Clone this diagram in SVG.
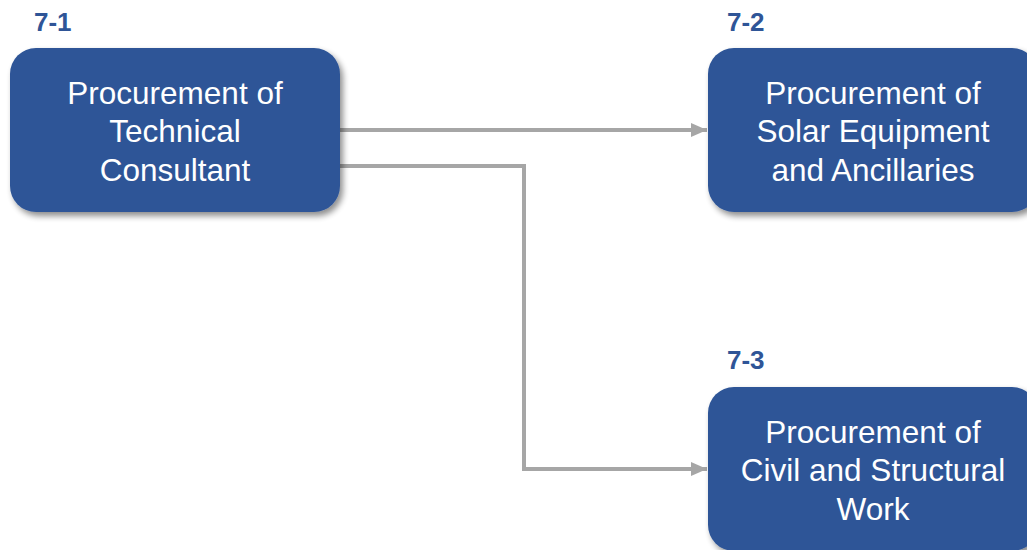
<svg xmlns="http://www.w3.org/2000/svg" width="1027" height="550" viewBox="0 0 1027 550">
<defs>
<filter id="sh" x="-10%" y="-10%" width="130%" height="140%">
<feGaussianBlur in="SourceAlpha" stdDeviation="3"/>
<feOffset dx="3" dy="4" result="b"/>
<feComponentTransfer><feFuncA type="linear" slope="0.45"/></feComponentTransfer>
<feMerge><feMergeNode/><feMergeNode in="SourceGraphic"/></feMerge>
</filter>
<marker id="arr" markerWidth="16" markerHeight="14" refX="16" refY="7" orient="auto" markerUnits="userSpaceOnUse">
<path d="M0,0 L16,7 L0,14 Z" fill="#A6A6A6"/>
</marker>
</defs>
<style>
.box{fill:#2F5597;filter:url(#sh)}
.t{font-family:"Liberation Sans",Arial,sans-serif;font-size:31.5px;fill:#fff;text-anchor:middle}
.lbl{font-family:"Liberation Sans",Arial,sans-serif;font-size:26px;font-weight:bold;fill:#2F5597}
.c{fill:none;stroke:#A6A6A6;stroke-width:4}
</style>
<rect width="1027" height="550" fill="#fff"/>
<g id="connectors">
<path class="c" d="M340,130 H707" marker-end="url(#arr)"/>
<path class="c" d="M340,166 H524 V469 H707" marker-end="url(#arr)"/>
</g>
<g id="node1">
<text class="lbl" x="34" y="31">7-1</text>
<rect class="box" x="10" y="48" width="330" height="164" rx="26"/>
<text class="t" x="175" y="104">Procurement of</text>
<text class="t" x="175" y="142">Technical</text>
<text class="t" x="175" y="181">Consultant</text>
</g>
<g id="node2">
<text class="lbl" x="727" y="31">7-2</text>
<rect class="box" x="708" y="48" width="330" height="164" rx="26"/>
<text class="t" x="873" y="104">Procurement of</text>
<text class="t" x="873" y="142">Solar Equipment</text>
<text class="t" x="873" y="181">and Ancillaries</text>
</g>
<g id="node3">
<text class="lbl" x="727" y="369">7-3</text>
<rect class="box" x="708" y="387" width="330" height="164" rx="26"/>
<text class="t" x="873" y="443">Procurement of</text>
<text class="t" x="873" y="481">Civil and Structural</text>
<text class="t" x="873" y="520">Work</text>
</g>
</svg>
